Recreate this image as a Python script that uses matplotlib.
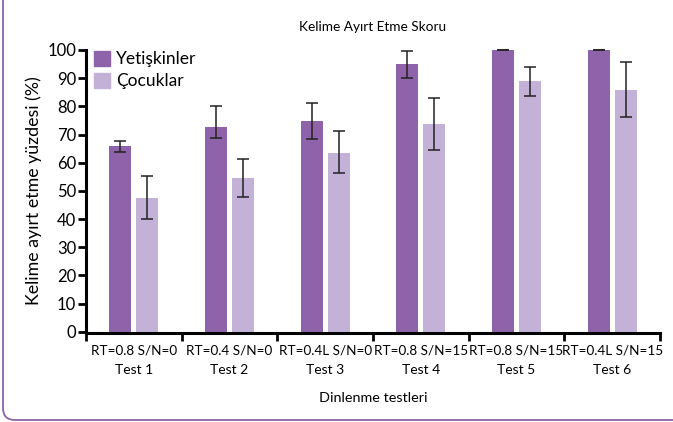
import numpy as np
import matplotlib
matplotlib.use("Agg")
import matplotlib.pyplot as plt
from matplotlib.patches import FancyBboxPatch, Patch

plt.rcParams['font.family'] = ['Lato', 'DejaVu Sans']

# data
tests = ["Test 1", "Test 2", "Test 3", "Test 4", "Test 5", "Test 6"]
conditions = ["RT=0.8 S/N=0", "RT=0.4 S/N=0", "RT=0.4L S/N=0",
              "RT=0.8 S/N=15", "RT=0.8 S/N=15", "RT=0.4L S/N=15"]
adults = [66.0, 72.7, 74.8, 95.0, 100.0, 100.0]
adults_err_lo = [2.1, 4.1, 6.5, 4.8, 0.0, 0.0]
adults_err_hi = [1.6, 7.3, 6.3, 4.5, 0.0, 0.0]
children = [47.5, 54.6, 63.4, 73.7, 89.0, 85.8]
children_err_lo = [7.5, 6.7, 7.1, 9.1, 5.2, 9.6]
children_err_hi = [7.7, 6.6, 7.9, 9.4, 5.1, 9.8]

c_adult = "#8e63a9"
c_child = "#c4b1d7"

fig = plt.figure(figsize=(6.73, 4.22), dpi=100)
ax = fig.add_axes([86/673, (422-331.7)/422, (660-86)/673, (331.7-50)/422])

x = np.arange(len(tests)) + 0.5
w = 0.23
off = 0.14
ekw = dict(ecolor="#222222", elinewidth=1.1, capthick=1.1, capsize=4.5)
ax.bar(x - off, adults, w, color=c_adult, label="Yetişkinler", zorder=2)
ax.bar(x + off, children, w, color=c_child, label="Çocuklar", zorder=2)
ax.errorbar(x - off, adults, yerr=[adults_err_lo, adults_err_hi], fmt="none",
            clip_on=False, zorder=3, **ekw)
ax.errorbar(x + off, children, yerr=[children_err_lo, children_err_hi], fmt="none",
            clip_on=False, zorder=3, **ekw)

ax.set_xlim(0, len(tests))
ax.set_ylim(0, 100)
ax.set_yticks(np.arange(0, 101, 10))
ax.tick_params(axis="y", labelsize=12, width=2, length=6, pad=1)

# boundaries as major ticks, condition labels on minor ticks at group centres
ax.set_xticks(np.arange(0, len(tests) + 1))
ax.set_xticklabels([])
ax.tick_params(axis="x", which="major", width=2, length=6, direction="out")
ax.set_xticks(x, minor=True)
ax.set_xticklabels(conditions, minor=True)
ax.tick_params(axis="x", which="minor", length=0, pad=8, labelsize=9.7)
# second line: test names
for xi, t in zip(x, tests):
    ax.text(xi, -0.135, t, transform=ax.get_xaxis_transform(), ha="center",
            va="center", fontsize=10)

for s in ["top", "right"]:
    ax.spines[s].set_visible(False)
ax.spines["left"].set_linewidth(2.2)
ax.spines["bottom"].set_linewidth(2.2)
ax.spines["bottom"].set_position(("outward", 1))

ax.set_ylabel("Kelime ayırt etme yüzdesi (%)", fontsize=12.8, labelpad=4)
ax.set_xlabel("Dinlenme testleri", fontsize=10.4, labelpad=26)
ax.set_title("Kelime Ayırt Etme Skoru", fontsize=9.8, pad=14)

ax.legend(handles=[Patch(color=c_adult, label="Yetişkinler"),
                   Patch(color=c_child, label="Çocuklar")],
          loc="upper left", bbox_to_anchor=(-0.008, 1.04), frameon=False,
          fontsize=12.5, handlelength=0.95, handleheight=0.95,
          handletextpad=0.35, labelspacing=0.3, borderaxespad=0.3)

# rounded frame around the figure
frame = FancyBboxPatch((0.03, 0.02), 8, 6, boxstyle="round,pad=0,rounding_size=0.12",
                       transform=fig.dpi_scale_trans, fill=False,
                       edgecolor="#8a63aa", linewidth=1.3)
fig.patches.append(frame)

fig.savefig("out.png", dpi=100)
